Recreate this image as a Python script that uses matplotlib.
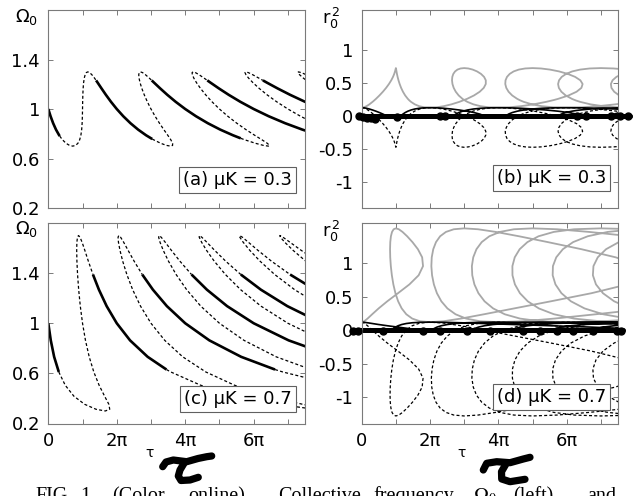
import numpy as np
import matplotlib
matplotlib.use("Agg")
import matplotlib.pyplot as plt
from matplotlib.lines import Line2D

nan = float("nan")

plt.rcParams['font.family'] = ['DejaVu Sans']
plt.rcParams['mathtext.fontset'] = 'dejavusans'

# ------------------------------------------------------------------
# DATA  (tau given in units of pi)
# ------------------------------------------------------------------
# ---- muK = 0.3 : panels (a) and (b) ----
tau_a = [0, 0.0664, 0.1412, 0.2250, 0.3173, 0.3328, 0.4164, 0.5188, 0.6199, 0.7143,
         0.7970, 0.8647, 0.9160, 0.9519, 0.9750, 0.9885, 0.9958, 1.0,
         1.0038, 1.0091, 1.0178, 1.0312, 1.0505, 1.0766, 1.1107, 1.1538,
         1.2073, 1.2723, 1.3506, 1.3970, 1.4437, 1.5535, 1.6819, 1.8304,
         2.0, 2.1907, 2.4006, 2.6250, 2.8558, 3.0371, 3.0811, 3.2857, 3.4537, 3.5714,
         3.6308, 3.6316, 3.5807, 3.4904, 3.3751, 3.2479, 3.1201, 3.0,
         2.8932, 2.8032, 2.7321, 2.6812, 2.6511, 2.6426, 2.6560, 2.6923,
         2.7526, 2.8383, 2.9513, 3.0214, 3.0937, 3.2678, 3.4759, 3.7198,
         4.0, 4.3151, 4.6600, 5.0251, 5.3943, 5.6233, 5.7458, 6.0526, 6.2875, 6.4286,
         6.4647, 6.3985, 6.2454, 6.0289, 5.7751, 5.5073, 5.2445, 5.0,
         4.7826, 4.5972, 4.4464, 4.3312, 4.2518, 4.2086, 4.2013, 4.2308,
         4.2979, 4.4043, 4.5520, 4.6459, 4.7437, 4.9821, 5.2699, 5.6092,
         6.0, 6.4394, 6.9194, 7.4251, 7.9328, nan,
         7.7667, 7.3688, 7.0, 6.6720, 6.3912, 6.1607, 5.9812, 5.8525, 5.7745, 5.7466,
         5.7692, 5.8432, 5.9702, 6.1527, 6.2703, 6.3937, 6.6964, 7.0640, 7.4986, 8.0, nan,
         7.6312, 7.4533, 7.3404, 7.2919, 7.3077, 7.3885, 7.5362]

omega_a = [1.0, 0.9415, 0.8852, 0.8333, 0.7879, 0.7813, 0.7506, 0.7228, 0.7058, 0.7,
           0.7058, 0.7228, 0.7506, 0.7879, 0.8333, 0.8852, 0.9415, 1.0,
           1.0585, 1.1148, 1.1667, 1.2121, 1.2494, 1.2772, 1.2942, 1.3,
           1.2942, 1.2772, 1.2494, 1.2312, 1.2121, 1.1667, 1.1148, 1.0585,
           1.0, 0.9415, 0.8852, 0.8333, 0.7879, 0.7573, 0.7506, 0.7228, 0.7058, 0.7,
           0.7058, 0.7228, 0.7506, 0.7879, 0.8333, 0.8852, 0.9415, 1.0,
           1.0585, 1.1148, 1.1667, 1.2121, 1.2494, 1.2772, 1.2942, 1.3,
           1.2942, 1.2772, 1.2494, 1.2312, 1.2121, 1.1667, 1.1148, 1.0585,
           1.0, 0.9415, 0.8852, 0.8333, 0.7879, 0.7629, 0.7506, 0.7228, 0.7058, 0.7,
           0.7058, 0.7228, 0.7506, 0.7879, 0.8333, 0.8852, 0.9415, 1.0,
           1.0585, 1.1148, 1.1667, 1.2121, 1.2494, 1.2772, 1.2942, 1.3,
           1.2942, 1.2772, 1.2494, 1.2312, 1.2121, 1.1667, 1.1148, 1.0585,
           1.0, 0.9415, 0.8852, 0.8333, 0.7879, nan,
           0.8852, 0.9415, 1.0, 1.0585, 1.1148, 1.1667, 1.2121, 1.2494, 1.2772, 1.2942,
           1.3, 1.2942, 1.2772, 1.2494, 1.2312, 1.2121, 1.1667, 1.1148, 1.0585, 1.0, nan,
           1.2121, 1.2494, 1.2772, 1.2942, 1.3, 1.2942, 1.2772]

stable_a = ([1] * 6 + [0] * 23 + [1] * 5) * 3 + [1] * 5 + [0] + [0] * 14 + [1] * 6 + [0] + [0] * 7

r2_gray_b = [0.12, 0.1258, 0.1428, 0.1706, 0.2079, 0.2147, 0.2533, 0.3052, 0.3615, 0.42,
             0.4785, 0.5348, 0.5867, 0.6321, 0.6695, 0.6972, 0.7142, 0.72,
             0.7142, 0.6972, 0.6695, 0.6321, 0.5867, 0.5348, 0.4785, 0.42,
             0.3615, 0.3052, 0.2533, 0.2288, 0.2079, 0.1706, 0.1428, 0.1258,
             0.12, 0.1258, 0.1428, 0.1706, 0.2079, 0.2437, 0.2533, 0.3052, 0.3615, 0.42,
             0.4785, 0.5348, 0.5867, 0.6321, 0.6695, 0.6972, 0.7142, 0.72,
             0.7142, 0.6972, 0.6695, 0.6321, 0.5867, 0.5348, 0.4785, 0.42,
             0.3615, 0.3052, 0.2533, 0.2288, 0.2079, 0.1706, 0.1428, 0.1258,
             0.12, 0.1258, 0.1428, 0.1706, 0.2079, 0.2361, 0.2533, 0.3052, 0.3615, 0.42,
             0.4785, 0.5348, 0.5867, 0.6321, 0.6695, 0.6972, 0.7142, 0.72,
             0.7142, 0.6972, 0.6695, 0.6321, 0.5867, 0.5348, 0.4785, 0.42,
             0.3615, 0.3052, 0.2533, 0.2288, 0.2079, 0.1706, 0.1428, 0.1258,
             0.12, 0.1258, 0.1428, 0.1706, 0.2079, nan,
             0.6972, 0.7142, 0.72, 0.7142, 0.6972, 0.6695, 0.6321, 0.5867, 0.5348, 0.4785,
             0.42, 0.3615, 0.3052, 0.2533, 0.2288, 0.2079, 0.1706, 0.1428, 0.1258, 0.12, nan,
             0.6321, 0.5867, 0.5348, 0.4785, 0.42, 0.3615, 0.3052]

r2_dash_b = [0.12, 0.1142, 0.0972, 0.0694, 0.0321, 0.0253, -0.0133, -0.0652, -0.1215, -0.18,
             -0.2385, -0.2948, -0.3467, -0.3921, -0.4295, -0.4572, -0.4742, -0.48,
             -0.4742, -0.4572, -0.4295, -0.3921, -0.3467, -0.2948, -0.2385, -0.18,
             -0.1215, -0.0652, -0.0133, 0.0112, 0.0321, 0.0694, 0.0972, 0.1142,
             0.12, 0.1142, 0.0972, 0.0694, 0.0321, -0.0037, -0.0133, -0.0652, -0.1215, -0.18,
             -0.2385, -0.2948, -0.3467, -0.3921, -0.4295, -0.4572, -0.4742, -0.48,
             -0.4742, -0.4572, -0.4295, -0.3921, -0.3467, -0.2948, -0.2385, -0.18,
             -0.1215, -0.0652, -0.0133, 0.0112, 0.0321, 0.0694, 0.0972, 0.1142,
             0.12, 0.1142, 0.0972, 0.0694, 0.0321, 0.0039, -0.0133, -0.0652, -0.1215, -0.18,
             -0.2385, -0.2948, -0.3467, -0.3921, -0.4295, -0.4572, -0.4742, -0.48,
             -0.4742, -0.4572, -0.4295, -0.3921, -0.3467, -0.2948, -0.2385, -0.18,
             -0.1215, -0.0652, -0.0133, 0.0112, 0.0321, 0.0694, 0.0972, 0.1142,
             0.12, 0.1142, 0.0972, 0.0694, 0.0321, nan,
             -0.4572, -0.4742, -0.48, -0.4742, -0.4572, -0.4295, -0.3921, -0.3467, -0.2948, -0.2385,
             -0.18, -0.1215, -0.0652, -0.0133, 0.0112, 0.0321, 0.0694, 0.0972, 0.1142, 0.12, nan,
             -0.3921, -0.3467, -0.2948, -0.2385, -0.18, -0.1215, -0.0652]

r2_black_b = [0.12, 0.1177, 0.1109, 0.0998, 0.0849, 0.0821, 0.0667, 0.0459, 0.0234, 0.0,
              nan, nan, nan, nan, nan, nan, nan, nan,
              nan, nan, nan, nan, nan, nan, nan, 0.0,
              0.0234, 0.0459, 0.0667, 0.0765, 0.0849, 0.0998, 0.1109, 0.1177,
              0.12, 0.1177, 0.1109, 0.0998, 0.0849, 0.0705, 0.0667, 0.0459, 0.0234, 0.0,
              nan, nan, nan, nan, nan, nan, nan, nan,
              nan, nan, nan, nan, nan, nan, nan, 0.0,
              0.0234, 0.0459, 0.0667, 0.0765, 0.0849, 0.0998, 0.1109, 0.1177,
              0.12, 0.1177, 0.1109, 0.0998, 0.0849, 0.0735, 0.0667, 0.0459, 0.0234, 0.0,
              nan, nan, nan, nan, nan, nan, nan, nan,
              nan, nan, nan, nan, nan, nan, nan, 0.0,
              0.0234, 0.0459, 0.0667, 0.0765, 0.0849, 0.0998, 0.1109, 0.1177,
              0.12, 0.1177, 0.1109, 0.0998, 0.0849, nan,
              nan, nan, nan, nan, nan, nan, nan, nan, nan, nan,
              0.0, 0.0234, 0.0459, 0.0667, 0.0765, 0.0849, 0.0998, 0.1109, 0.1177, 0.12, nan,
              nan, nan, nan, nan, 0.0, 0.0234, 0.0459]

# ---- muK = 0.7 : panels (c) and (d) ----
tau_c = [0, 0.0724, 0.1707, 0.3068, 0.4950, 0.7477, 1.0615, 1.3958, 1.6667,
         1.7946, 1.7692, 1.6449, 1.4851, 1.3296, 1.1952, 1.0858, 1.0,
         0.9348, 0.8873, 0.8550, 0.8361, 0.8296, 0.8350, 0.8523, 0.8824,
         0.9264, 0.9868, 1.0667, 1.1706, 1.3050, 1.4788, 1.7047,
         2.0, 2.3887, 2.9026, 3.4528, 3.5797, 4.4552, 5.5330, 6.7229, 7.7766, nan,
         8.1754, 7.4305, 6.4302, 5.4452, 4.6025, 3.9270, 3.4021, 3.0,
         2.6945, 2.4647, 2.2950, 2.1740, 2.0938, 2.0495, 2.0382, 2.0588,
         2.1123, 2.2013, 2.3308, 2.5084, 2.7450, 3.0562, 3.4644,
         4.0, 4.7051, 5.6344, 6.6249, 6.8526, 8.4153, nan,
         7.8755, 6.6588, 5.7185, 5.0,
         4.4542, 4.0422, 3.7349, 3.5118, 3.3580, 3.2640, 3.2240, 3.2353,
         3.2981, 3.4159, 3.5950, 3.8463, 4.1849, 4.6337, 5.2241,
         6.0, 7.0214, 8.3662, nan,
         8.0348, 7.0,
         6.2139, 5.6196, 5.1749, 4.8496, 4.6222, 4.4785, 4.4098, 4.4118,
         4.4839, 4.6304, 4.8592, 5.1841, 5.6249, 6.2111, 6.9837,
         8.0, nan,
         7.9736, 7.1970, 6.6149, 6.1874, 5.8863, 5.6931, 5.5957, 5.5882,
         5.6698, 5.8449, 6.1234, 6.5219, 7.0648, 7.7885, nan,
         8.0548, 7.5252, 7.1505, 6.9076, 6.7815, 6.7647, 6.8556, 7.0594, 7.3875, 7.8597]

omega_c = [1.0, 0.8634, 0.7321, 0.6111, 0.5050, 0.4180, 0.3533, 0.3134, 0.3,
           0.3134, 0.3533, 0.4180, 0.5050, 0.6111, 0.7321, 0.8634, 1.0,
           1.1366, 1.2679, 1.3889, 1.4950, 1.5821, 1.6467, 1.6866, 1.7,
           1.6866, 1.6467, 1.5821, 1.4950, 1.3889, 1.2679, 1.1366,
           1.0, 0.8634, 0.7321, 0.6305, 0.6111, 0.5050, 0.4180, 0.3533, 0.3134, nan,
           0.3134, 0.3533, 0.4180, 0.5050, 0.6111, 0.7321, 0.8634, 1.0,
           1.1366, 1.2679, 1.3889, 1.4950, 1.5821, 1.6467, 1.6866, 1.7,
           1.6866, 1.6467, 1.5821, 1.4950, 1.3889, 1.2679, 1.1366,
           1.0, 0.8634, 0.7321, 0.6305, 0.6111, 0.5050, nan,
           0.6111, 0.7321, 0.8634, 1.0,
           1.1366, 1.2679, 1.3889, 1.4950, 1.5821, 1.6467, 1.6866, 1.7,
           1.6866, 1.6467, 1.5821, 1.4950, 1.3889, 1.2679, 1.1366,
           1.0, 0.8634, 0.7321, nan,
           0.8634, 1.0,
           1.1366, 1.2679, 1.3889, 1.4950, 1.5821, 1.6467, 1.6866, 1.7,
           1.6866, 1.6467, 1.5821, 1.4950, 1.3889, 1.2679, 1.1366,
           1.0, nan,
           1.1366, 1.2679, 1.3889, 1.4950, 1.5821, 1.6467, 1.6866, 1.7,
           1.6866, 1.6467, 1.5821, 1.4950, 1.3889, 1.2679, nan,
           1.3889, 1.4950, 1.5821, 1.6467, 1.6866, 1.7, 1.6866, 1.6467, 1.5821, 1.4950]

stable_c = ([1] * 4 + [0] * 25 + [1] * 3 + [1] * 4 + [0] * 6
            + [0] * 20 + [1] * 3 + [1] * 4 + [0] * 3
            + [0] * 16 + [1] * 3 + [1] * 3 + [0]
            + [0] * 14 + [1] * 3 + [1] + [0]
            + [0] * 12 + [1] * 2 + [0]
            + [0] * 10)

r2_gray_d = [0.12, 0.1334, 0.1733, 0.2380, 0.3250, 0.4311, 0.5521, 0.6834, 0.82,
             0.9566, 1.0879, 1.2089, 1.3150, 1.4021, 1.4667, 1.5066, 1.52,
             1.5066, 1.4667, 1.4021, 1.3150, 1.2089, 1.0879, 0.9566, 0.82,
             0.6834, 0.5521, 0.4311, 0.3250, 0.2380, 0.1733, 0.1334,
             0.12, 0.1334, 0.1733, 0.2254, 0.2380, 0.3250, 0.4311, 0.5521, 0.6834, nan,
             0.9566, 1.0879, 1.2089, 1.3150, 1.4021, 1.4667, 1.5066, 1.52,
             1.5066, 1.4667, 1.4021, 1.3150, 1.2089, 1.0879, 0.9566, 0.82,
             0.6834, 0.5521, 0.4311, 0.3250, 0.2380, 0.1733, 0.1334,
             0.12, 0.1334, 0.1733, 0.2254, 0.2380, 0.3250, nan,
             1.4021, 1.4667, 1.5066, 1.52,
             1.5066, 1.4667, 1.4021, 1.3150, 1.2089, 1.0879, 0.9566, 0.82,
             0.6834, 0.5521, 0.4311, 0.3250, 0.2380, 0.1733, 0.1334,
             0.12, 0.1334, 0.1733, nan,
             1.5066, 1.52,
             1.5066, 1.4667, 1.4021, 1.3150, 1.2089, 1.0879, 0.9566, 0.82,
             0.6834, 0.5521, 0.4311, 0.3250, 0.2380, 0.1733, 0.1334,
             0.12, nan,
             1.5066, 1.4667, 1.4021, 1.3150, 1.2089, 1.0879, 0.9566, 0.82,
             0.6834, 0.5521, 0.4311, 0.3250, 0.2380, 0.1733, nan,
             1.4021, 1.3150, 1.2089, 1.0879, 0.9566, 0.82, 0.6834, 0.5521, 0.4311, 0.3250]

r2_dash_d = [0.12, 0.1066, 0.0667, 0.0020, -0.0850, -0.1911, -0.3121, -0.4434, -0.58,
             -0.7166, -0.8479, -0.9689, -1.0750, -1.1621, -1.2267, -1.2666, -1.28,
             -1.2666, -1.2267, -1.1621, -1.0750, -0.9689, -0.8479, -0.7166, -0.58,
             -0.4434, -0.3121, -0.1911, -0.0850, 0.0020, 0.0667, 0.1066,
             0.12, 0.1066, 0.0667, 0.0146, 0.0020, -0.0850, -0.1911, -0.3121, -0.4434, nan,
             -0.7166, -0.8479, -0.9689, -1.0750, -1.1621, -1.2267, -1.2666, -1.28,
             -1.2666, -1.2267, -1.1621, -1.0750, -0.9689, -0.8479, -0.7166, -0.58,
             -0.4434, -0.3121, -0.1911, -0.0850, 0.0020, 0.0667, 0.1066,
             0.12, 0.1066, 0.0667, 0.0146, 0.0020, -0.0850, nan,
             -1.1621, -1.2267, -1.2666, -1.28,
             -1.2666, -1.2267, -1.1621, -1.0750, -0.9689, -0.8479, -0.7166, -0.58,
             -0.4434, -0.3121, -0.1911, -0.0850, 0.0020, 0.0667, 0.1066,
             0.12, 0.1066, 0.0667, nan,
             -1.2666, -1.28,
             -1.2666, -1.2267, -1.1621, -1.0750, -0.9689, -0.8479, -0.7166, -0.58,
             -0.4434, -0.3121, -0.1911, -0.0850, 0.0020, 0.0667, 0.1066,
             0.12, nan,
             -1.2666, -1.2267, -1.1621, -1.0750, -0.9689, -0.8479, -0.7166, -0.58,
             -0.4434, -0.3121, -0.1911, -0.0850, 0.0020, 0.0667, nan,
             -1.1621, -1.0750, -0.9689, -0.8479, -0.7166, -0.58, -0.4434, -0.3121, -0.1911, -0.0850]

r2_black_d = [0.12, 0.1177, 0.1109, 0.0998, 0.0849, 0.0667, 0.0459, 0.0234, 0.0,
              nan, nan, nan, nan, nan, nan, nan, nan,
              nan, nan, nan, nan, nan, nan, nan, 0.0,
              0.0234, 0.0459, 0.0667, 0.0849, 0.0998, 0.1109, 0.1177,
              0.12, 0.1177, 0.1109, 0.1019, 0.0998, 0.0849, 0.0667, 0.0459, 0.0234, nan,
              nan, nan, nan, nan, nan, nan, nan, nan,
              nan, nan, nan, nan, nan, nan, nan, 0.0,
              0.0234, 0.0459, 0.0667, 0.0849, 0.0998, 0.1109, 0.1177,
              0.12, 0.1177, 0.1109, 0.1019, 0.0998, 0.0849, nan,
              nan, nan, nan, nan,
              nan, nan, nan, nan, nan, nan, nan, 0.0,
              0.0234, 0.0459, 0.0667, 0.0849, 0.0998, 0.1109, 0.1177,
              0.12, 0.1177, 0.1109, nan,
              nan, nan,
              nan, nan, nan, nan, nan, nan, nan, 0.0,
              0.0234, 0.0459, 0.0667, 0.0849, 0.0998, 0.1109, 0.1177,
              0.12, nan,
              nan, nan, nan, nan, nan, nan, nan, 0.0,
              0.0234, 0.0459, 0.0667, 0.0849, 0.0998, 0.1109, nan,
              nan, nan, nan, nan, nan, 0.0, 0.0234, 0.0459, 0.0667, 0.0849]

# simulation points (thick black band at r0^2 = 0)
zero_tau_b = [-0.12, 7.85]
dots_tau_b = [-0.08, 0.05, 0.15, 0.27, 0.38, 1.03, 2.3, 2.45, 6.3, 6.55, 7.3, 7.55, 7.8]
dots_r2_b = [0.0, -0.02, -0.035, -0.03, -0.05, -0.02, -0.012, -0.012, -0.012, -0.012, -0.01, -0.01, -0.01]
zero_tau_d = [-0.28, 7.65]
dots_tau_d = [-0.25, -0.1, 0.63, 1.8, 2.29, 3.07, 3.75, 4.73, 5.22, 5.71, 6.19, 6.78, 7.46, 7.6]
dots_r2_d = [-0.005, -0.005, -0.005, -0.005, -0.005, -0.005, -0.005, -0.005, -0.005, -0.005, -0.005, -0.005, -0.005, -0.005]

x_ticks = [0, 1, 2, 3, 4, 5, 6, 7]
x_ticklabels = ['0', '', '2π', '', '4π', '', '6π', '']
omega_ticks = [0.2, 0.6, 1.0, 1.4]
omega_ticklabels = ['0.2', '0.6', '1', '1.4']
r2_ticks = [-1, -0.5, 0, 0.5, 1]
r2_ticklabels = ['-1', '-0.5', '0', '0.5', '1']
panel_labels = ['(a) μK = 0.3', '(b) μK = 0.3', '(c) μK = 0.7', '(d) μK = 0.7']

# ------------------------------------------------------------------
W, H = 633.0, 496.0
fig = plt.figure(figsize=(W / 100, H / 100), dpi=100)


def add_ax(x0, x1, y0, y1):
    return fig.add_axes([x0 / W, 1 - y1 / H, (x1 - x0) / W, (y1 - y0) / H])


SPINE = '#7a7a7a'


def style(ax, ylim, yt, ytl, bottom):
    ax.set_xlim(0, 7.5 * np.pi)
    ax.set_ylim(*ylim)
    ax.set_xticks(np.array(x_ticks) * np.pi)
    ax.set_xticklabels(x_ticklabels if bottom else [''] * len(x_ticks))
    ax.set_yticks(yt)
    ax.set_yticklabels(ytl)
    ax.tick_params(direction='in', length=3.5, width=0.7, color=SPINE,
                   top=True, right=True, labelsize=13)
    ax.tick_params(axis='x', pad=6)
    ax.tick_params(axis='y', pad=6)
    for s in ax.spines.values():
        s.set_color(SPINE)
        s.set_linewidth(0.8)


def draw_omega(ax, tau, om, flags):
    x = np.asarray(tau, float) * np.pi
    y = np.asarray(om, float)
    runs = []
    cx, cy, cs = [], [], None
    for i in range(len(x) - 1):
        if np.isnan(x[i]) or np.isnan(x[i + 1]):
            if cx:
                runs.append((cx, cy, cs))
            cx, cy, cs = [], [], None
            continue
        s = bool(flags[i] and flags[i + 1])
        if cs is None or s != cs:
            if cx:
                runs.append((cx, cy, cs))
            cx, cy, cs = [x[i], x[i + 1]], [y[i], y[i + 1]], s
        else:
            cx.append(x[i + 1])
            cy.append(y[i + 1])
    if cx:
        runs.append((cx, cy, cs))
    for rx, ry, s in runs:
        if s:
            ax.plot(rx, ry, color='black', lw=1.9, solid_capstyle='butt', zorder=2.2)
        else:
            ax.plot(rx, ry, color='black', lw=0.9, linestyle=(0, (2.4, 1.8)), zorder=2.1)


def draw_r2(ax, tau, gray, dash, black, ztau, dtau, dr2):
    x = np.asarray(tau, float) * np.pi
    ax.plot(x, gray, color='#a8a8a8', lw=1.3, zorder=2.0)
    ax.plot(x, black, color='black', lw=1.2, zorder=2.1)
    ax.plot(x, dash, color='black', lw=0.9, linestyle=(0, (2.4, 1.8)), zorder=2.1)
    ax.plot(np.array(ztau) * np.pi, [0, 0], color='black', lw=3.6, zorder=2.5,
            clip_on=False, solid_capstyle='round')
    ax.plot(np.array(dtau) * np.pi, dr2, 'o', color='black', ms=5.0, zorder=2.6,
            clip_on=False)


def label_box(ax, txt, xr, yc):
    ax.text(xr, yc, txt, transform=ax.transAxes, ha='right', va='center',
            fontsize=13, zorder=5,
            bbox=dict(boxstyle='square,pad=0.22', fc='white', ec='#606060', lw=0.8))


ax_a = add_ax(48.3, 305, 10, 208)
ax_b = add_ax(361.7, 618, 10, 208)
ax_c = add_ax(48.3, 305, 223, 423.5)
ax_d = add_ax(361.7, 618, 223, 424)

draw_omega(ax_a, tau_a, omega_a, stable_a)
draw_omega(ax_c, tau_c, omega_c, stable_c)
draw_r2(ax_b, tau_a, r2_gray_b, r2_dash_b, r2_black_b, zero_tau_b, dots_tau_b, dots_r2_b)
draw_r2(ax_d, tau_c, r2_gray_d, r2_dash_d, r2_black_d, zero_tau_d, dots_tau_d, dots_r2_d)

style(ax_a, (0.2, 1.8), omega_ticks, omega_ticklabels, False)
style(ax_c, (0.2, 1.8), omega_ticks, omega_ticklabels, True)
style(ax_b, (-1.4, 1.6), r2_ticks, r2_ticklabels, False)
style(ax_d, (-1.4, 1.6), r2_ticks, r2_ticklabels, True)

label_box(ax_a, panel_labels[0], 0.950, 0.141)
label_box(ax_b, panel_labels[1], 0.954, 0.152)
label_box(ax_c, panel_labels[2], 0.950, 0.122)
label_box(ax_d, panel_labels[3], 0.954, 0.135)

# axis name labels
fig.text(27 / W, 1 - 17 / H, r'$\Omega_0$', fontsize=13, ha='center', va='center')
fig.text(27 / W, 1 - 229 / H, r'$\Omega_0$', fontsize=13, ha='center', va='center')
fig.text(331 / W, 1 - 18 / H, r'$\mathrm{r}_0^{\,2}$', fontsize=13, ha='center', va='center')
fig.text(331 / W, 1 - 231 / H, r'$\mathrm{r}_0^{\,2}$', fontsize=13, ha='center', va='center')
fig.text(150 / W, 1 - 453 / H, 'τ', fontsize=10, ha='center', va='center')
fig.text(461.7 / W, 1 - 453 / H, 'τ', fontsize=10, ha='center', va='center')


# hand-drawn tau marks
def stroke(pts):
    xs = [p[0] / W for p in pts]
    ys = [1 - p[1] / H for p in pts]
    fig.add_artist(Line2D(xs, ys, color='black', lw=5.2, solid_capstyle='round',
                          solid_joinstyle='round', transform=fig.transFigure))


stroke([(162.7, 466.7), (166, 462), (173.3, 460), (186.7, 461.7), (198, 458.5), (206.7, 456.7), (211.7, 456)])
stroke([(185, 461.7), (180, 470), (178.3, 476), (181, 480.5), (190, 480), (198.3, 477.3)])
stroke([(483.3, 470), (486.7, 463.3), (496.7, 461.7), (510, 462.7), (523.3, 459), (530, 457.3)])
stroke([(506.7, 462.7), (501.5, 471.7), (501.7, 479), (510, 481.7), (525, 479.3)])

# caption (cut at the bottom edge, as in the source page)
cap_words = [('FIG.', 35), ('1.', 80), ('(Color', 112), ('online)', 188), ('Collective', 278),
             ('frequency', 373), (r'$\Omega_0$', 473), ('(left)', 513), ('and', 587)]
for w, xp in cap_words:
    kw = dict(fontsize=14.5, ha='left', va='baseline', family=['Liberation Serif', 'DejaVu Serif'])
    if w.startswith('$'):
        fig.text(xp / W, (H - 501) / H, w, math_fontfamily='stix', **kw)
    else:
        fig.text(xp / W, (H - 501) / H, w, **kw)

fig.savefig('out.png', dpi=100)
